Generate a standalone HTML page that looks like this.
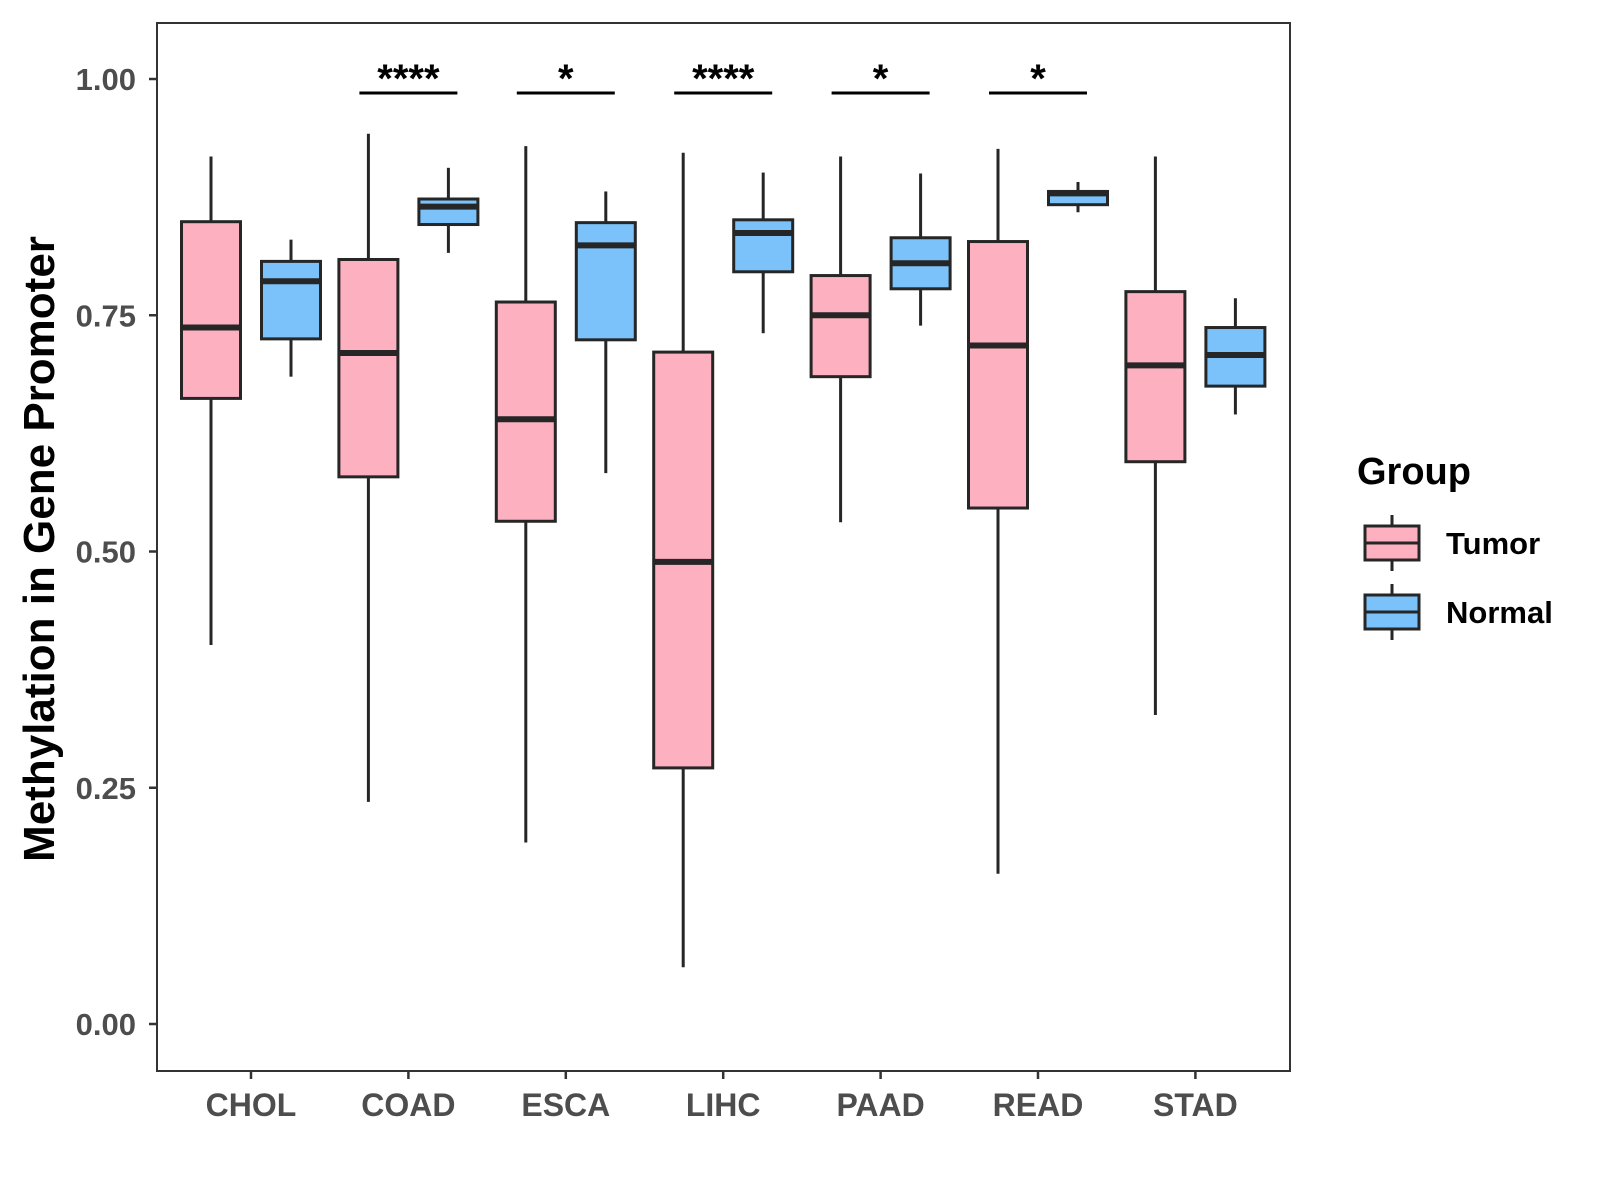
<!DOCTYPE html>
<html><head><meta charset="utf-8"><style>
html,body{margin:0;padding:0;background:#fff;}
svg{display:block;font-family:"Liberation Sans",Arial,sans-serif;}
</style></head><body>
<svg id="chart" width="1600" height="1200" viewBox="0 0 1600 1200"></svg>
<script>
const categories = ["CHOL","COAD","ESCA","LIHC","PAAD","READ","STAD"];
// [whiskerLow, q1, median, q3, whiskerHigh]
const tumorStats = [
  [0.401,0.662,0.737,0.849,0.918],
  [0.235,0.579,0.710,0.809,0.942],
  [0.192,0.532,0.640,0.764,0.929],
  [0.060,0.271,0.489,0.711,0.922],
  [0.531,0.685,0.750,0.792,0.918],
  [0.159,0.546,0.718,0.828,0.926],
  [0.327,0.595,0.697,0.775,0.918]
];
const normalStats = [
  [0.685,0.725,0.786,0.807,0.830],
  [0.816,0.846,0.865,0.873,0.906],
  [0.583,0.724,0.824,0.848,0.881],
  [0.731,0.796,0.837,0.851,0.901],
  [0.739,0.778,0.805,0.832,0.900],
  [0.859,0.867,0.879,0.881,0.891],
  [0.645,0.675,0.708,0.737,0.768]
];
const sigLabels = ["","****","*","****","*","*",""];
const yTicks = [0,0.25,0.5,0.75,1.0];
const yTickLabels = ["0.00","0.25","0.50","0.75","1.00"];

const NS="http://www.w3.org/2000/svg";
const svg=document.getElementById('chart');
const P={l:157,r:1290,t:23,b:1071};
function y(v){return 1024-(v)*945;}
function x(i){return 251+i*157.4;}
function el(tag,attrs,parent){const e=document.createElementNS(NS,tag);for(const k in attrs)e.setAttribute(k,attrs[k]);(parent||svg).appendChild(e);return e;}

const panel=el('rect',{x:P.l,y:P.t,width:P.r-P.l,height:P.b-P.t,fill:'#fff',stroke:'#333',"stroke-width":2});



yTicks.forEach((v,i)=>{
  const g=el('g',{});
  
  
  el('line',{x1:P.l-8,x2:P.l,y1:y(v),y2:y(v),stroke:'#333',"stroke-width":2.5},g);
  const t=el('text',{x:P.l-21,y:y(v)+11,"text-anchor":"end","font-size":31,"font-weight":"bold",fill:'#4d4d4d'},g);
  t.textContent=yTickLabels[i];
});
categories.forEach((c,i)=>{
  const g=el('g',{});
  
  
  el('line',{x1:x(i),x2:x(i),y1:P.b,y2:P.b+8,stroke:'#333',"stroke-width":2.5},g);
  const t=el('text',{x:x(i),y:P.b+45,"text-anchor":"middle","font-size":32,"font-weight":"bold",fill:'#4d4d4d'},g);
  t.textContent=c;
});

function drawBox(s,cx,fill,name){
  const g=el('g',{});
  
  
  const w=59;
  el('line',{x1:cx,x2:cx,y1:y(s[0]),y2:y(s[1]),stroke:'#262626',"stroke-width":3},g);
  el('line',{x1:cx,x2:cx,y1:y(s[3]),y2:y(s[4]),stroke:'#262626',"stroke-width":3},g);
  el('rect',{x:cx-w/2,y:y(s[3]),width:w,height:y(s[1])-y(s[3]),fill:fill,stroke:'#262626',"stroke-width":3},g);
  el('line',{x1:cx-w/2,x2:cx+w/2,y1:y(s[2]),y2:y(s[2]),stroke:'#262626',"stroke-width":6},g);
}
categories.forEach((c,i)=>{
  drawBox(tumorStats[i],x(i)-40,'#fdb0c0','box-'+c.toLowerCase()+'-tumor');
  drawBox(normalStats[i],x(i)+40,'#7ac2f9','box-'+c.toLowerCase()+'-normal');
  if(sigLabels[i]){
    const g=el('g',{});
    
    
    el('line',{x1:x(i)-49,x2:x(i)+49,y1:93,y2:93,stroke:'#000',"stroke-width":3},g);
    const t=el('text',{x:x(i),y:92,"text-anchor":"middle","font-size":40,"font-weight":"bold",fill:'#000'},g);
    t.textContent=sigLabels[i];
  }
});

const yl=el('text',{x:0,y:0,transform:'translate(54,549) rotate(-90)',"text-anchor":"middle","font-size":44,"font-weight":"bold",fill:'#000'});


yl.textContent='Methylation in Gene Promoter';

const lg=el('g',{});


const lt=el('text',{x:1357,y:484,"font-size":38,"font-weight":"bold",fill:'#000'},lg);
lt.textContent='Group';
[['Tumor','#fdb0c0',543],['Normal','#7ac2f9',612]].forEach(([n,f,cy])=>{
  const g=el('g',{},lg);
  
  
  el('line',{x1:1392,x2:1392,y1:cy-28,y2:cy+28,stroke:'#262626',"stroke-width":3},g);
  el('rect',{x:1365,y:cy-17,width:54,height:34,fill:f,stroke:'#262626',"stroke-width":3},g);
  el('line',{x1:1365,x2:1419,y1:cy,y2:cy,stroke:'#262626',"stroke-width":3},g);
  const t=el('text',{x:1446,y:cy+11,"font-size":31,"font-weight":"bold",fill:'#000'},g);
  t.textContent=n;
});
</script>
</body></html>
